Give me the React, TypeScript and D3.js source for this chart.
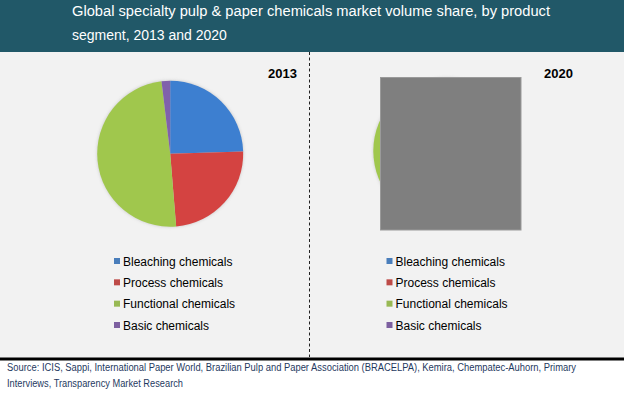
import React from "react";
import * as d3 from "d3";

const categories = ["Bleaching chemicals", "Process chemicals", "Functional chemicals", "Basic chemicals"];
const share2013 = [24.5, 24.2, 49.4, 1.9];
const share2020 = [24.0, 25.0, 49.0, 2.0];
const years = ["2013", "2020"];
const titleLines = [
  "Global specialty pulp & paper chemicals market volume share, by product",
  "segment, 2013 and 2020",
];
const sourceLines = [
  "Source: ICIS, Sappi, International Paper World, Brazilian Pulp and Paper Association (BRACELPA), Kemira, Chempatec-Auhorn, Primary",
  "Interviews, Transparency Market Research",
];

const topColors = ["#3d7fd0", "#d44341", "#a0c74d", "#8061ab"];
const bottomColors = ["#2d5c98", "#9a2c2a", "#86a83e", "#6a4e92"];
const legendColors = ["#4a7ebb", "#be4b48", "#98b954", "#7d60a0"];

const W = 624;
const H = 393;

function Pie({ data, cx, cy, r, id }: { data: number[]; cx: number; cy: number; r: number; id: string }) {
  const arcs = d3.pie<number>().sort(null).value((d) => d)(data);
  const arc = d3.arc<d3.PieArcDatum<number>>().innerRadius(0).outerRadius(r);
  const y = d3.scaleLinear().domain([0, 1]).range([cy - r, cy + r]);
  return (
    <g>
      <defs>
        {arcs.map((a, i) => (
          <linearGradient key={i} id={`${id}-g${i}`} gradientUnits="userSpaceOnUse" x1={0} x2={0} y1={y(0)} y2={y(1)}>
            <stop offset="0%" stopColor={topColors[i]} />
            <stop offset="100%" stopColor={bottomColors[i]} />
          </linearGradient>
        ))}
        <filter id={`${id}-sh`} x="-20%" y="-20%" width="140%" height="140%">
          <feGaussianBlur stdDeviation="1.5" />
        </filter>
      </defs>
      <circle cx={cx} cy={cy} r={r + 0.5} fill="#bbb" opacity={0.6} filter={`url(#${id}-sh)`} />
      <g transform={`translate(${cx},${cy})`}>
        {arcs.map((a, i) => (
          <path key={i} d={arc(a) || ""} fill={`url(#${id}-g${i})`} />
        ))}
      </g>
    </g>
  );
}

function Legend({ x, y }: { x: number; y: number }) {
  const ys = d3.scalePoint<string>().domain(categories).range([y, y + 64]);
  return (
    <g>
      {categories.map((c, i) => (
        <g key={c}>
          <rect x={x} y={(ys(c) as number) - 3} width={6} height={6} fill={legendColors[i]} />
          <text x={x + 9} y={(ys(c) as number) + 4.5} fontSize={12} fontFamily="Arial, 'Liberation Sans', sans-serif" fill="#000">
            {c}
          </text>
        </g>
      ))}
    </g>
  );
}

export default function App() {
  return (
    <svg width={W} height={H} style={{ position: "absolute", left: 0, top: 0 }} xmlns="http://www.w3.org/2000/svg">
      <rect x={0} y={0} width={W} height={H} fill="#ffffff" />
      <rect x={0} y={52} width={W} height={306} fill="#f2f2f2" />
      <rect x={0} y={0} width={W} height={52} fill="#215868" />
      {titleLines.map((t, i) => (
        <text key={i} x={72} y={15.5 + i * 24.5} fontSize={14} fontFamily="Arial, 'Liberation Sans', sans-serif" fill="#ffffff" textLength={i === 0 ? 478 : undefined} lengthAdjust="spacingAndGlyphs">
          {t}
        </text>
      ))}
      <line x1={309.5} x2={309.5} y1={52} y2={357} stroke="#222" strokeWidth={1} strokeDasharray="3,2.5" />

      <Pie data={share2013} cx={170.2} cy={153.7} r={73} id="p13" />
      <Pie data={share2020} cx={446.3} cy={151} r={73} id="p20" />
      <rect x={380.5} y={77.5} width={140.5} height={152.5} fill="#7f7f7f" stroke="#9a9a9a" strokeWidth={1} />

      <text x={297} y={78} textAnchor="end" fontSize={13} fontWeight="bold" fontFamily="Arial, 'Liberation Sans', sans-serif" fill="#000">
        {years[0]}
      </text>
      <text x={573} y={77.5} textAnchor="end" fontSize={13} fontWeight="bold" fontFamily="Arial, 'Liberation Sans', sans-serif" fill="#000">
        {years[1]}
      </text>

      <Legend x={114} y={261} />
      <Legend x={386.5} y={261} />

      <rect x={0} y={357.5} width={W} height={3} fill="#000" />
      {sourceLines.map((t, i) => (
        <text key={i} x={7} y={371 + i * 16} fontSize={10} fontFamily="Arial, 'Liberation Sans', sans-serif" fill="#1f3a5f" textLength={i === 0 ? 569 : 176} lengthAdjust="spacingAndGlyphs">
          {t}
        </text>
      ))}
    </svg>
  );
}
